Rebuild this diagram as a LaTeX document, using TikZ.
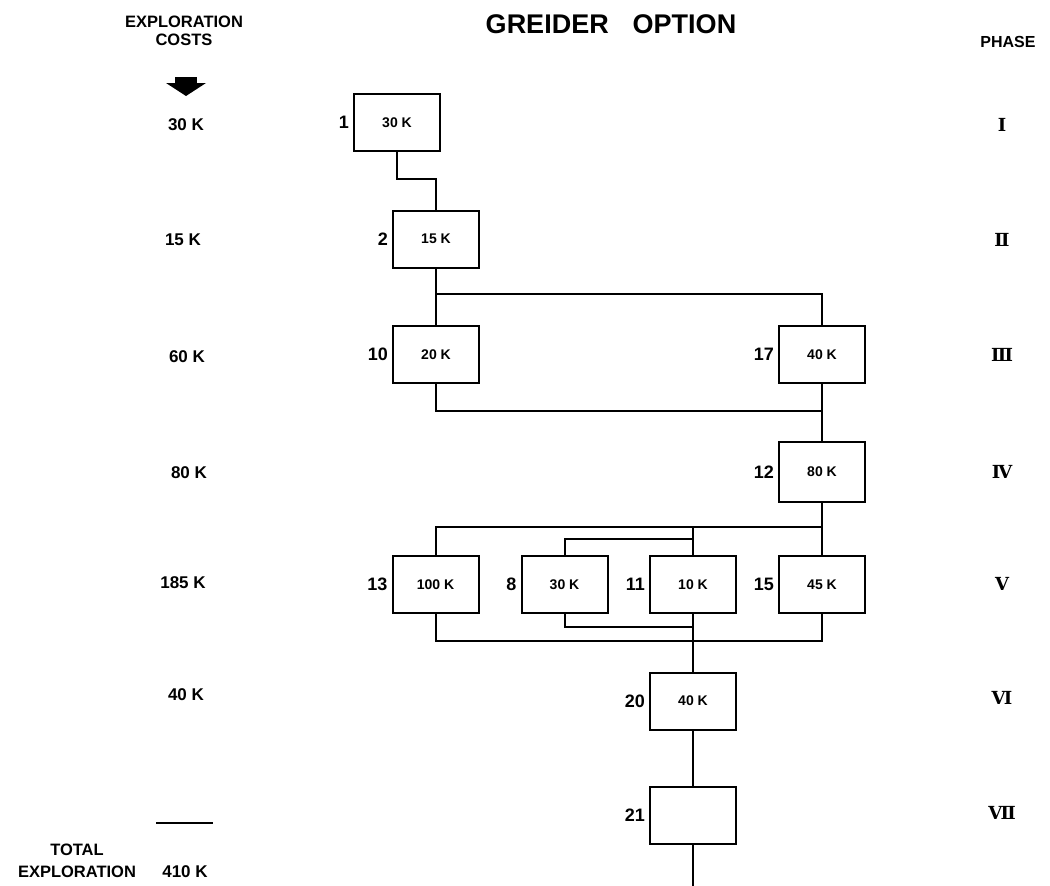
\documentclass[tikz,border=0pt]{standalone}
\usepackage{fontspec}
\setmainfont{Liberation Sans}
\newfontfamily\romfont{DejaVu Serif}
\begin{document}
\begin{tikzpicture}[x=1pt,y=-1pt,
  box/.style={draw, line width=2pt, minimum width=86pt, minimum height=57pt, inner sep=0pt, font=\bfseries\fontsize{14}{14}\selectfont},
  lbl/.style={anchor=east, font=\bfseries\fontsize{18}{18}\selectfont, inner sep=0pt},
  cost/.style={font=\bfseries\fontsize{17}{17}\selectfont, inner sep=0pt},
  hdr/.style={font=\bfseries\fontsize{16.5}{18}\selectfont, inner sep=0pt, align=center},
  rom/.style={font=\romfont\bfseries\fontsize{18}{18}\selectfont, inner sep=0pt},
  wire/.style={line width=2pt}]
\useasboundingbox (0,0) rectangle (1050,886);

% titles
\node[font=\bfseries\fontsize{27}{27}\selectfont, inner sep=0pt] (title) at (611,24) {GREIDER\hspace{24pt}OPTION};
\node[hdr] (hexp) at (184,31) {EXPLORATION\\COSTS};
\node[hdr, font=\bfseries\fontsize{16}{16}\selectfont] (hphase) at (1008,42) {PHASE};

% arrow
\fill (175,77) rectangle (197,83);
\fill (166,83) -- (206,83) -- (186,96) -- cycle;

% costs column
\node[cost] (c1) at (186,125) {30 K};
\node[cost] (c2) at (183,240) {15 K};
\node[cost] (c3) at (187,357) {60 K};
\node[cost] (c4) at (189,473) {80 K};
\node[cost] (c5) at (183,583) {185 K};
\node[cost] (c6) at (186,695) {40 K};
\coordinate (tl1) at (156,823);
\coordinate (tl2) at (213,823);
\draw[line width=1.5pt] (tl1) -- (tl2);
\node[hdr, font=\bfseries\fontsize{16.5}{22}\selectfont] (total) at (77,861) {TOTAL\\EXPLORATION};
\node[cost] (ctot) at (185,872) {410 K};

% phases
\node[rom] (p1) at (1002,125) {Ⅰ};
\node[rom] (p2) at (1002,240) {Ⅱ};
\node[rom] (p3) at (1002,355) {Ⅲ};
\node[rom] (p4) at (1002,472) {Ⅳ};
\node[rom] (p5) at (1002,584) {Ⅴ};
\node[rom] (p6) at (1002,698) {Ⅵ};
\node[rom] (p7) at (1002,813) {Ⅶ};

% boxes
\node[box] (b1) at (397,122.5) {30 K};
\node[box] (b2) at (436,239) {15 K};
\node[box] (b10) at (436,354.5) {20 K};
\node[box] (b17) at (822,354.5) {40 K};
\node[box, minimum height=60pt] (b12) at (822,472) {80 K};
\node[box] (b13) at (435.5,584.5) {100 K};
\node[box] (b8) at (564.5,584.5) {30 K};
\node[box] (b11) at (693,584.5) {10 K};
\node[box] (b15) at (822,584.5) {45 K};
\node[box] (b20) at (693,701) {40 K};
\node[box] (b21) at (693,815) {};

% box labels
\foreach \b/\t in {b1/1,b2/2,b10/10,b17/17,b12/12,b13/13,b8/8,b11/11,b15/15,b20/20,b21/21}
  \node[lbl] (l\b) at ([xshift=-4pt]\b.west) {\t};

% connectors
\coordinate (j1) at (436,179);
\coordinate (j2) at (436,294);
\coordinate (j3) at (822,411);
\coordinate (j4) at (822,527);
\coordinate (j5) at (693,527);
\coordinate (j6) at (693,539);
\coordinate (j7) at (693,627);
\coordinate (j8) at (822,641);
\coordinate (jend) at (693,886);

\draw[wire] (b1.south) |- (j1) -- (b2.north);
\draw[wire] (b2.south) -- (b10.north);
\draw[wire] (j2) -| (b17.north);
\draw[wire] (b10.south) |- (j3);
\draw[wire] (b17.south) -- (b12.north);
\draw[wire] (b12.south) -- (b15.north);
\draw[wire] (b13.north) |- (j4);
\draw[wire] (j5) -- (b11.north);
\draw[wire] (b8.north) |- (j6);
\draw[wire] (b8.south) |- (j7);
\draw[wire] (b13.south) |- (j8) -- (b15.south);
\draw[wire] (b11.south) -- (b20.north);
\draw[wire] (b20.south) -- (b21.north);
\draw[wire] (b21.south) -- (jend);
\end{tikzpicture}
\end{document}
